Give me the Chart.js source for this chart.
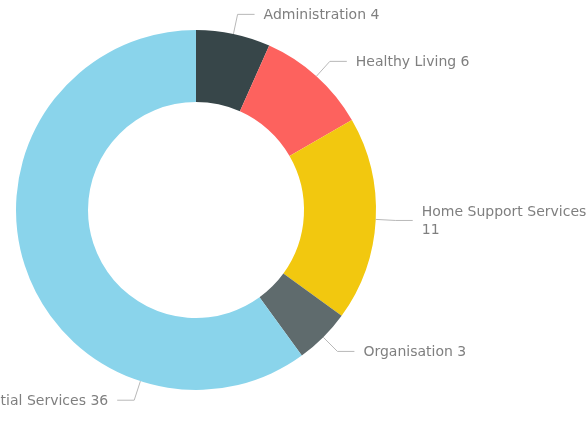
<!DOCTYPE html>
<html>
<head>
<meta charset="utf-8">
<script src="https://cdn.jsdelivr.net/npm/chart.js@4/dist/chart.umd.min.js"></script>
<style>
  html,body{margin:0;padding:0;background:#fff;}
  #wrap{width:588px;height:424px;position:relative;}
</style>
</head>
<body>
<div id="wrap"><canvas id="chart" width="588" height="424"></canvas></div>
<script>
const categories = ["Administration", "Healthy Living", "Home Support Services", "Organisation", "Residential Services"];
const values = [4, 6, 11, 3, 36];
const colors = ["#374649", "#FD625E", "#F2C80F", "#5F6B6D", "#8AD4EB"];
// where along each slice the label leader starts (0 = start, 1 = end)
const labelAnchor = [0.5, 0.5, 0.5, 0.5, 0.25];

const FONT = "14px 'DejaVu Sans'";

// outside labels with elbow leader lines, like Power BI
const leaderLabels = {
  id: "leaderLabels",
  afterDatasetsDraw(chart){
    const ctx = chart.ctx;
    const meta = chart.getDatasetMeta(0);
    ctx.save();
    ctx.font = FONT;
    ctx.textBaseline = "middle";
    meta.data.forEach((arc, i)=>{
      const p = arc.getProps(["x","y","startAngle","endAngle","outerRadius"], true);
      const a = p.startAngle + (p.endAngle - p.startAngle) * labelAnchor[i];
      const x0 = p.x + Math.cos(a) * p.outerRadius;
      const y0 = p.y + Math.sin(a) * p.outerRadius;
      const x1 = p.x + Math.cos(a) * (p.outerRadius + 20);
      const y1 = p.y + Math.sin(a) * (p.outerRadius + 20);
      const dir = Math.cos(a) >= 0 ? 1 : -1;
      const x2 = x1 + dir * 17;

      ctx.strokeStyle = "#b8b8b8";
      ctx.lineWidth = 1;
      ctx.beginPath();
      ctx.moveTo(x0, y0);
      ctx.lineTo(x1, y1);
      ctx.lineTo(x2, y1);
      ctx.stroke();

      const tx = x2 + dir * 9;
      const text = categories[i] + " " + values[i];
      const lines = [];
      if(dir > 0){
        // wrap on the right edge; left labels just run off the canvas
        const avail = chart.width - tx + 4;
        let cur = "";
        text.split(" ").forEach(w=>{
          const t = cur ? cur + " " + w : w;
          if(cur && ctx.measureText(t).width > avail){ lines.push(cur); cur = w; }
          else cur = t;
        });
        lines.push(cur);
      } else {
        lines.push(text);
      }
      const lh = 18;
      ctx.fillStyle = "#7f7f7f";
      ctx.textAlign = dir > 0 ? "left" : "right";
      lines.forEach((l, k)=>{
        ctx.fillText(l, tx, y1 + 1 + (k - (lines.length - 1) / 2) * lh);
      });
    });
    ctx.restore();
  }
};

new Chart(document.getElementById("chart"), {
  type: "doughnut",
  data: {
    labels: categories,
    datasets: [{
      data: values,
      backgroundColor: colors,
      borderWidth: 0
    }]
  },
  options: {
    responsive: false,
    animation: false,
    cutout: "60%",
    layout: {padding: {left: 16, top: 30, right: 212, bottom: 34}},
    plugins: {legend: {display: false}, tooltip: {enabled: false}}
  },
  plugins: [leaderLabels]
});
</script>
</body>
</html>
